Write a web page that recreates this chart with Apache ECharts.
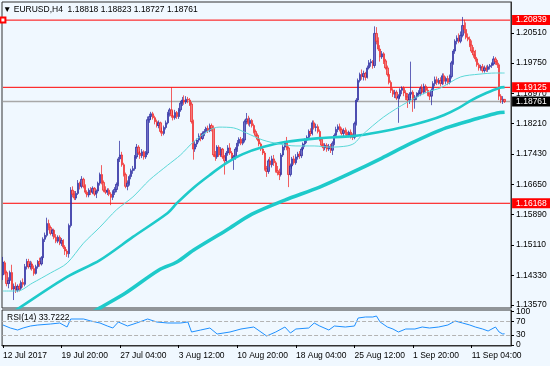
<!DOCTYPE html>
<html>
<head>
<meta charset="utf-8">
<script src="https://cdn.jsdelivr.net/npm/echarts@6/dist/echarts.min.js"></script>
<style>
html, body { margin: 0; padding: 0; background: #f0f8ff; }
#chart { width: 550px; height: 366px; }
</style>
</head>
<body>
<div id="chart"></div>
<script>
// EURUSD H4 bars, 12 Jul - 14 Sep 2017
var opens = [
  1.1434, 1.1465, 1.1440, 1.1412, 1.1420, 1.1440, 1.1398, 1.1405, 1.1395, 1.1405,
  1.1400, 1.1415, 1.1410, 1.1455, 1.1468, 1.1455, 1.1462, 1.1450, 1.1438, 1.1455,
  1.1468, 1.1462, 1.1478, 1.1525, 1.1535, 1.1565, 1.1555, 1.1540, 1.1548, 1.1530,
  1.1520, 1.1530, 1.1515, 1.1522, 1.1505, 1.1495, 1.1488, 1.1560, 1.1650, 1.1640,
  1.1630, 1.1642, 1.1668, 1.1660, 1.1678, 1.1660, 1.1645, 1.1638, 1.1650, 1.1645,
  1.1655, 1.1640, 1.1648, 1.1668, 1.1690, 1.1670, 1.1650, 1.1645, 1.1650, 1.1640,
  1.1632, 1.1645, 1.1652, 1.1665, 1.1730, 1.1740, 1.1715, 1.1690, 1.1660, 1.1668,
  1.1685, 1.1700, 1.1705, 1.1735, 1.1760, 1.1745, 1.1738, 1.1748, 1.1735, 1.1745,
  1.1830, 1.1838, 1.1845, 1.1835, 1.1825, 1.1815, 1.1822, 1.1800, 1.1795, 1.1810,
  1.1822, 1.1845, 1.1855, 1.1840, 1.1835, 1.1848, 1.1838, 1.1855, 1.1872, 1.1880,
  1.1875, 1.1882, 1.1880, 1.1870, 1.1825, 1.1755, 1.1768, 1.1778, 1.1788, 1.1782,
  1.1795, 1.1800, 1.1808, 1.1802, 1.1815, 1.1808, 1.1740, 1.1735, 1.1760, 1.1740,
  1.1755, 1.1735, 1.1725, 1.1745, 1.1758, 1.1745, 1.1730, 1.1735, 1.1755, 1.1770,
  1.1780, 1.1770, 1.1778, 1.1825, 1.1832, 1.1820, 1.1828, 1.1815, 1.1800, 1.1790,
  1.1780, 1.1768, 1.1755, 1.1745, 1.1705, 1.1698, 1.1725, 1.1715, 1.1730, 1.1720,
  1.1700, 1.1695, 1.1690, 1.1740, 1.1760, 1.1770, 1.1758, 1.1690, 1.1712, 1.1730,
  1.1720, 1.1735, 1.1742, 1.1738, 1.1755, 1.1768, 1.1778, 1.1785, 1.1800, 1.1795,
  1.1822, 1.1810, 1.1812, 1.1800, 1.1780, 1.1765, 1.1758, 1.1765, 1.1755, 1.1762,
  1.1752, 1.1770, 1.1790, 1.1805, 1.1812, 1.1805, 1.1795, 1.1802, 1.1798, 1.1790,
  1.1798, 1.1790, 1.1785, 1.1820, 1.1880, 1.1930, 1.1945, 1.1940, 1.1948, 1.1938,
  1.1962, 1.1975, 1.1978, 1.1968, 1.2050, 1.2030, 1.2010, 1.1990, 1.1998, 1.1980,
  1.1962, 1.1945, 1.1925, 1.1905, 1.1895, 1.1900, 1.1885, 1.1890, 1.1905, 1.1910,
  1.1898, 1.1888, 1.1880, 1.1895, 1.1900, 1.1880, 1.1888, 1.1895, 1.1898, 1.1910,
  1.1900, 1.1915, 1.1905, 1.1895, 1.1890, 1.1905, 1.1922, 1.1932, 1.1925, 1.1930,
  1.1922, 1.1942, 1.1928, 1.1935, 1.1925, 1.1940, 1.1975, 1.2005, 1.2030, 1.2038,
  1.2030, 1.2045, 1.2070, 1.2060, 1.2040, 1.2035, 1.2020, 1.2005, 1.1995, 1.1985,
  1.1970, 1.1962, 1.1965, 1.1955, 1.1962, 1.1958, 1.1965, 1.1968, 1.1972, 1.1985,
  1.1978, 1.1970, 1.1890, 1.1878, 1.18818
];
var closes = [
  1.1467, 1.1440, 1.1412, 1.1420, 1.1440, 1.1398, 1.1405, 1.1395, 1.1405, 1.1400,
  1.1415, 1.1410, 1.1455, 1.1468, 1.1455, 1.1462, 1.1450, 1.1438, 1.1455, 1.1468,
  1.1462, 1.1478, 1.1525, 1.1535, 1.1565, 1.1555, 1.1540, 1.1548, 1.1530, 1.1520,
  1.1530, 1.1515, 1.1522, 1.1505, 1.1495, 1.1488, 1.1560, 1.1650, 1.1640, 1.1630,
  1.1642, 1.1668, 1.1660, 1.1678, 1.1660, 1.1645, 1.1638, 1.1650, 1.1645, 1.1655,
  1.1640, 1.1648, 1.1668, 1.1690, 1.1670, 1.1650, 1.1645, 1.1650, 1.1640, 1.1632,
  1.1645, 1.1652, 1.1665, 1.1730, 1.1740, 1.1715, 1.1690, 1.1660, 1.1668, 1.1685,
  1.1700, 1.1705, 1.1735, 1.1760, 1.1745, 1.1738, 1.1748, 1.1735, 1.1745, 1.1830,
  1.1838, 1.1845, 1.1835, 1.1825, 1.1815, 1.1822, 1.1800, 1.1795, 1.1810, 1.1822,
  1.1845, 1.1855, 1.1840, 1.1835, 1.1848, 1.1838, 1.1855, 1.1872, 1.1880, 1.1875,
  1.1882, 1.1880, 1.1870, 1.1825, 1.1755, 1.1768, 1.1778, 1.1788, 1.1782, 1.1795,
  1.1800, 1.1808, 1.1802, 1.1815, 1.1808, 1.1740, 1.1735, 1.1760, 1.1740, 1.1755,
  1.1735, 1.1725, 1.1745, 1.1758, 1.1745, 1.1730, 1.1735, 1.1755, 1.1770, 1.1780,
  1.1770, 1.1778, 1.1825, 1.1832, 1.1820, 1.1828, 1.1815, 1.1800, 1.1790, 1.1780,
  1.1768, 1.1755, 1.1745, 1.1705, 1.1698, 1.1725, 1.1715, 1.1730, 1.1720, 1.1700,
  1.1695, 1.1690, 1.1740, 1.1760, 1.1770, 1.1758, 1.1690, 1.1712, 1.1730, 1.1720,
  1.1735, 1.1742, 1.1738, 1.1755, 1.1768, 1.1778, 1.1785, 1.1800, 1.1795, 1.1822,
  1.1810, 1.1812, 1.1800, 1.1780, 1.1765, 1.1758, 1.1765, 1.1755, 1.1762, 1.1752,
  1.1770, 1.1790, 1.1805, 1.1812, 1.1805, 1.1795, 1.1802, 1.1798, 1.1790, 1.1798,
  1.1790, 1.1785, 1.1820, 1.1880, 1.1930, 1.1945, 1.1940, 1.1948, 1.1938, 1.1962,
  1.1975, 1.1978, 1.1968, 1.2050, 1.2030, 1.2010, 1.1990, 1.1998, 1.1980, 1.1962,
  1.1945, 1.1925, 1.1905, 1.1895, 1.1900, 1.1885, 1.1890, 1.1905, 1.1910, 1.1898,
  1.1888, 1.1880, 1.1895, 1.1900, 1.1880, 1.1888, 1.1895, 1.1898, 1.1910, 1.1900,
  1.1915, 1.1905, 1.1895, 1.1890, 1.1905, 1.1922, 1.1932, 1.1925, 1.1930, 1.1922,
  1.1942, 1.1928, 1.1935, 1.1925, 1.1940, 1.1975, 1.2005, 1.2030, 1.2038, 1.2030,
  1.2045, 1.2070, 1.2060, 1.2040, 1.2035, 1.2020, 1.2005, 1.1995, 1.1985, 1.1970,
  1.1962, 1.1965, 1.1955, 1.1962, 1.1958, 1.1965, 1.1968, 1.1972, 1.1985, 1.1978,
  1.1970, 1.1890, 1.1880, 1.1882, 1.18761
];
var lows = [
  1.1421, 1.1435, 1.1405, 1.1400, 1.1412, 1.1395, 1.1370, 1.1388, 1.1390, 1.1392,
  1.1395, 1.1402, 1.1405, 1.1448, 1.1450, 1.1448, 1.1445, 1.1432, 1.1435, 1.1450,
  1.1455, 1.1458, 1.1472, 1.1518, 1.1530, 1.1548, 1.1535, 1.1532, 1.1525, 1.1515,
  1.1515, 1.1510, 1.1508, 1.1500, 1.1485, 1.1480, 1.1478, 1.1555, 1.1632, 1.1625,
  1.1625, 1.1638, 1.1652, 1.1655, 1.1655, 1.1640, 1.1632, 1.1632, 1.1638, 1.1640,
  1.1635, 1.1630, 1.1642, 1.1662, 1.1665, 1.1645, 1.1640, 1.1638, 1.1635, 1.1612,
  1.1625, 1.1638, 1.1645, 1.1660, 1.1722, 1.1710, 1.1685, 1.1655, 1.1650, 1.1662,
  1.1678, 1.1692, 1.1700, 1.1730, 1.1740, 1.1730, 1.1732, 1.1728, 1.1730, 1.1740,
  1.1822, 1.1830, 1.1830, 1.1818, 1.1810, 1.1808, 1.1795, 1.1788, 1.1790, 1.1805,
  1.1818, 1.1838, 1.1835, 1.1828, 1.1830, 1.1832, 1.1832, 1.1850, 1.1865, 1.1868,
  1.1870, 1.1872, 1.1865, 1.1820, 1.1728, 1.1748, 1.1760, 1.1772, 1.1775, 1.1778,
  1.1788, 1.1795, 1.1796, 1.1798, 1.1800, 1.1735, 1.1725, 1.1730, 1.1735, 1.1735,
  1.1730, 1.1690, 1.1720, 1.1738, 1.1740, 1.1725, 1.1702, 1.1728, 1.1748, 1.1762,
  1.1765, 1.1765, 1.1772, 1.1818, 1.1815, 1.1812, 1.1810, 1.1795, 1.1785, 1.1775,
  1.1762, 1.1750, 1.1740, 1.1700, 1.1684, 1.1692, 1.1710, 1.1708, 1.1712, 1.1695,
  1.1688, 1.1676, 1.1685, 1.1735, 1.1752, 1.1752, 1.1658, 1.1685, 1.1705, 1.1715,
  1.1715, 1.1728, 1.1730, 1.1732, 1.1750, 1.1760, 1.1770, 1.1780, 1.1788, 1.1790,
  1.1805, 1.1800, 1.1795, 1.1775, 1.1760, 1.1750, 1.1752, 1.1748, 1.1750, 1.1745,
  1.1740, 1.1765, 1.1785, 1.1798, 1.1800, 1.1790, 1.1788, 1.1790, 1.1785, 1.1785,
  1.1782, 1.1778, 1.1780, 1.1815, 1.1875, 1.1925, 1.1932, 1.1930, 1.1930, 1.1935,
  1.1958, 1.1965, 1.1960, 1.1962, 1.2022, 1.2005, 1.1978, 1.1985, 1.1972, 1.1958,
  1.1940, 1.1920, 1.1898, 1.1888, 1.1885, 1.1880, 1.1822, 1.1882, 1.1895, 1.1890,
  1.1880, 1.1860, 1.1870, 1.1885, 1.1850, 1.1858, 1.1880, 1.1888, 1.1890, 1.1895,
  1.1895, 1.1898, 1.1890, 1.1880, 1.1867, 1.1900, 1.1915, 1.1918, 1.1920, 1.1915,
  1.1918, 1.1920, 1.1920, 1.1918, 1.1920, 1.1935, 1.1970, 1.1998, 1.2022, 1.2025,
  1.2025, 1.2040, 1.2050, 1.2035, 1.2030, 1.2015, 1.2000, 1.1988, 1.1978, 1.1965,
  1.1955, 1.1955, 1.1950, 1.1950, 1.1952, 1.1952, 1.1958, 1.1962, 1.1968, 1.1970,
  1.1962, 1.1880, 1.1872, 1.1870, 1.18727
];
var highs = [
  1.1480, 1.1470, 1.1445, 1.1428, 1.1445, 1.1460, 1.1412, 1.1415, 1.1410, 1.1412,
  1.1420, 1.1425, 1.1462, 1.1475, 1.1475, 1.1470, 1.1468, 1.1458, 1.1460, 1.1472,
  1.1478, 1.1482, 1.1530, 1.1542, 1.1580, 1.1575, 1.1560, 1.1552, 1.1552, 1.1538,
  1.1535, 1.1535, 1.1528, 1.1525, 1.1510, 1.1500, 1.1565, 1.1658, 1.1660, 1.1648,
  1.1648, 1.1676, 1.1672, 1.1686, 1.1682, 1.1665, 1.1650, 1.1655, 1.1658, 1.1660,
  1.1658, 1.1652, 1.1672, 1.1695, 1.1714, 1.1675, 1.1660, 1.1655, 1.1655, 1.1645,
  1.1650, 1.1658, 1.1670, 1.1735, 1.1776, 1.1748, 1.1720, 1.1695, 1.1675, 1.1690,
  1.1705, 1.1712, 1.1740, 1.1768, 1.1765, 1.1750, 1.1755, 1.1752, 1.1750, 1.1838,
  1.1845, 1.1850, 1.1850, 1.1840, 1.1830, 1.1828, 1.1825, 1.1810, 1.1815, 1.1828,
  1.1850, 1.1860, 1.19125, 1.1852, 1.1855, 1.1852, 1.1860, 1.1878, 1.1888, 1.1892,
  1.1890, 1.1888, 1.1885, 1.1875, 1.1830, 1.1775, 1.1782, 1.1795, 1.1795, 1.1800,
  1.1806, 1.1812, 1.1815, 1.1820, 1.1820, 1.1815, 1.1750, 1.1765, 1.1765, 1.1760,
  1.1758, 1.1740, 1.1750, 1.1765, 1.1770, 1.1750, 1.1740, 1.1760, 1.1778, 1.1785,
  1.1786, 1.1783, 1.1830, 1.1847, 1.1840, 1.1835, 1.1832, 1.1820, 1.1805, 1.1795,
  1.1785, 1.1772, 1.1760, 1.1750, 1.1712, 1.1730, 1.1735, 1.1738, 1.1740, 1.1725,
  1.1712, 1.1705, 1.1745, 1.1765, 1.1775, 1.1786, 1.1762, 1.1718, 1.1735, 1.1738,
  1.1742, 1.1748, 1.1750, 1.1760, 1.1772, 1.1782, 1.1790, 1.1805, 1.1808, 1.1828,
  1.1828, 1.1820, 1.1818, 1.1805, 1.1785, 1.1770, 1.1770, 1.1770, 1.1768, 1.1768,
  1.1775, 1.1795, 1.1812, 1.1818, 1.1820, 1.1810, 1.1808, 1.1810, 1.1805, 1.1802,
  1.1805, 1.1795, 1.1825, 1.1885, 1.1935, 1.1950, 1.1958, 1.1955, 1.1952, 1.1968,
  1.1982, 1.1985, 1.1982, 1.2068, 1.2066, 1.2040, 1.2020, 1.2005, 1.2002, 1.1985,
  1.1968, 1.1950, 1.1930, 1.1910, 1.1906, 1.1905, 1.1895, 1.1910, 1.1915, 1.1915,
  1.1905, 1.1898, 1.1900, 1.1978, 1.1905, 1.1893, 1.1900, 1.1905, 1.1915, 1.1920,
  1.1922, 1.1920, 1.1912, 1.1900, 1.1910, 1.1928, 1.1940, 1.1940, 1.1936, 1.1938,
  1.1948, 1.1948, 1.1940, 1.1942, 1.1945, 1.1980, 1.2010, 1.2035, 1.2045, 1.2050,
  1.2055, 1.2092, 1.2085, 1.2078, 1.2050, 1.2042, 1.2032, 1.2015, 1.2008, 1.1990,
  1.1975, 1.1970, 1.1972, 1.1968, 1.1968, 1.1970, 1.1972, 1.1976, 1.1992, 1.1990,
  1.1982, 1.1975, 1.1895, 1.1890, 1.18823
];

// moving averages, [bar index, value] read at intervals along each curve
var maFast = [[0, 1.1393], [8, 1.1393], [16, 1.1413], [26, 1.1439], [35, 1.1464], [44, 1.1515],
  [53, 1.1556], [62, 1.1600], [71, 1.1633], [80, 1.1676], [90, 1.1714], [97, 1.1740],
  [104, 1.1773], [113, 1.1804], [118, 1.1811], [126, 1.1809], [133, 1.1796], [142, 1.1778],
  [151, 1.1768], [160, 1.1763], [170, 1.1763], [179, 1.1760], [188, 1.1763], [192, 1.1770],
  [196, 1.1790], [208, 1.1837], [221, 1.1875], [232, 1.1901], [239, 1.1911], [250, 1.1939],
  [260, 1.1946], [269, 1.1949], [274, 1.1949]];
var maMid = [[0, 1.1322], [9, 1.1350], [35, 1.1429], [53, 1.1472], [71, 1.1531], [90, 1.1592],
  [95, 1.1617], [104, 1.1656], [113, 1.1689], [122, 1.1719], [131, 1.1742], [142, 1.1760],
  [154, 1.1773], [173, 1.1783], [191, 1.1788], [205, 1.1798], [223, 1.1816], [232, 1.1827],
  [241, 1.1842], [249, 1.1860], [256, 1.1880], [264, 1.1898], [271, 1.1911], [274, 1.1913]];
var maSlow = [[42, 1.1319], [53, 1.1350], [67, 1.1388], [85, 1.1446], [95, 1.1467], [104, 1.1497],
  [122, 1.1548], [136, 1.1589], [154, 1.1625], [173, 1.1658], [191, 1.1696], [207, 1.1732],
  [223, 1.1770], [242, 1.1809], [260, 1.1834], [270, 1.1847], [274, 1.1849]];

var rsiPts = [[0, 60], [4, 51], [8, 45], [11, 51], [15, 57], [19, 60], [26, 63], [31, 66], [35, 54],
  [37, 78], [44, 78], [48, 72], [53, 66], [57, 57], [60, 51], [63, 69], [68, 57], [73, 66],
  [79, 78], [84, 69], [90, 66], [97, 66], [101, 69], [103, 39], [108, 45], [113, 51], [117, 33],
  [124, 39], [130, 48], [137, 54], [144, 27], [149, 39], [154, 54], [157, 36], [160, 48],
  [167, 51], [170, 66], [173, 57], [178, 45], [181, 57], [187, 54], [192, 57], [194, 81],
  [198, 84], [202, 84], [204, 87], [206, 69], [210, 54], [213, 48], [216, 39], [220, 48],
  [225, 48], [229, 54], [233, 51], [238, 54], [243, 60], [247, 72], [251, 66], [255, 60],
  [258, 54], [262, 48], [265, 42], [269, 54], [271, 39], [273, 33], [274, 33.7222]];

var tickLabels = ['12 Jul 2017', '19 Jul 20:00', '27 Jul 04:00', '3 Aug 12:00', '10 Aug 20:00',
  '18 Aug 04:00', '25 Aug 12:00', '1 Sep 20:00', '11 Sep 04:00'];
var labelStep = 32;
var priceTicks = [1.13570, 1.14330, 1.15110, 1.15890, 1.16650, 1.17430, 1.18210, 1.18970, 1.19750, 1.20510];
var rsiTicks = [0, 30, 70, 100];
var topLevel = 1.20839;
var redLevels = [1.19125, 1.16168];
var lastPrice = 1.18761;

var FONT = 'Liberation Sans';
var slots = 278;   // bars plus the empty shift on the right
var cats = [];
for (var i = 0; i < slots; i++) cats.push(String(i));

var candles = opens.map(function (o, k) { return [o, closes[k], lows[k], highs[k]]; });

function isTick(idx) { return idx % labelStep === 0 && idx / labelStep < tickLabels.length; }

// horizontal price level across the whole plot, with its price tag on the axis
function levelSeries(value, color, tagColor, width, handles) {
  return {
    type: 'line', xAxisIndex: 0, yAxisIndex: 0, z: 2, silent: true,
    data: [[0, value], [slots - 1, value]],
    symbol: 'emptyRect', symbolSize: 5, showSymbol: handles,
    itemStyle: { color: color },
    lineStyle: { color: color, width: width },
    endLabel: {
      show: true, distance: 2,
      formatter: function () { return value.toFixed(5); },
      color: '#fff', backgroundColor: tagColor, padding: [1, 4, 0, 4],
      fontFamily: FONT, fontSize: 8.5, lineHeight: 9
    }
  };
}

var series = [
  {
    type: 'candlestick', xAxisIndex: 0, yAxisIndex: 0, data: candles, barWidth: 1.8,
    itemStyle: { color: '#6e6ec4', color0: '#f27a7a', borderColor: '#23239c', borderColor0: '#f01c1c', borderWidth: 0.7 }
  },
  levelSeries(lastPrice, '#a8a8a8', '#000000', 1.5, false)
];
redLevels.forEach(function (v) { series.push(levelSeries(v, '#ff0000', '#ff0000', 1, false)); });
series.push(levelSeries(topLevel, '#ff0000', '#ff0000', 1, true));
series.push(
  {
    type: 'line', xAxisIndex: 0, yAxisIndex: 0, data: maSlow, showSymbol: false, symbol: 'none',
    smooth: 0.3, clip: true, lineStyle: { color: '#1ecaca', width: 3.6 }, z: 3
  },
  {
    type: 'line', xAxisIndex: 0, yAxisIndex: 0, data: maMid, showSymbol: false, symbol: 'none',
    smooth: 0.3, clip: true, lineStyle: { color: '#1ecaca', width: 2.6 }, z: 3
  },
  {
    type: 'line', xAxisIndex: 0, yAxisIndex: 0, data: maFast, showSymbol: false, symbol: 'none',
    smooth: 0.3, clip: true, lineStyle: { color: '#5cd8d8', width: 1 }, z: 3
  },
  {
    type: 'line', xAxisIndex: 1, yAxisIndex: 1, data: rsiPts, showSymbol: false, symbol: 'none',
    lineStyle: { color: '#1e90ff', width: 1 },
    markLine: {
      silent: true, symbol: ['none', 'none'], label: { show: false },
      lineStyle: { color: '#b4b4b4', type: 'dashed', width: 1 },
      data: [{ yAxis: 30 }, { yAxis: 70 }]
    }
  }
);

var option = {
  animation: false,
  backgroundColor: '#f0f8ff',
  title: [
    { text: '\u25BC EURUSD,H4  1.18818 1.18823 1.18727 1.18761', left: 3, top: 5, padding: 0,
      textStyle: { fontFamily: FONT, fontSize: 8.5, fontWeight: 'normal', color: '#000' } },
    { text: 'RSI(14) 33.7222', left: 7, top: 313, padding: 0,
      textStyle: { fontFamily: FONT, fontSize: 8.5, fontWeight: 'normal', color: '#000' } }
  ],
  grid: [
    { left: 2, right: 39, top: 2, height: 306, show: true, borderColor: '#333', borderWidth: 1, backgroundColor: '#f0f8ff' },
    { left: 2, right: 39, top: 310, height: 36, show: true, borderColor: '#333', borderWidth: 1, backgroundColor: '#f0f8ff' }
  ],
  xAxis: [
    { type: 'category', gridIndex: 0, data: cats, boundaryGap: true, show: false },
    {
      type: 'category', gridIndex: 1, data: cats, boundaryGap: true,
      axisLine: { show: true, lineStyle: { color: '#333' } },
      axisTick: { show: true, interval: isTick, alignWithLabel: true, length: 3, lineStyle: { color: '#000' } },
      axisLabel: {
        interval: isTick, align: 'left', margin: 5, color: '#000', fontFamily: FONT, fontSize: 8.5,
        formatter: function (v, idx) { return tickLabels[idx / labelStep]; }
      },
      splitLine: { show: false }
    }
  ],
  yAxis: [
    {
      type: 'value', gridIndex: 0, position: 'right', min: 1.13497, max: 1.21301, scale: true,
      axisLine: { show: true, lineStyle: { color: '#333' } },
      axisTick: { show: true, length: 3, customValues: priceTicks, lineStyle: { color: '#000' } },
      axisLabel: {
        customValues: priceTicks, margin: 5, color: '#000', fontFamily: FONT, fontSize: 8.5,
        formatter: function (v) { return v.toFixed(5); }
      },
      splitLine: { show: false }
    },
    {
      type: 'value', gridIndex: 1, position: 'right', min: -3, max: 105,
      axisLine: { show: true, lineStyle: { color: '#333' } },
      axisTick: { show: true, length: 3, customValues: rsiTicks, lineStyle: { color: '#000' } },
      axisLabel: { customValues: rsiTicks, margin: 5, color: '#000', fontFamily: FONT, fontSize: 8.5 },
      splitLine: { show: false }
    }
  ],
  series: series
};

var chart = echarts.init(document.getElementById('chart'));
chart.setOption(option);
</script>
</body>
</html>
